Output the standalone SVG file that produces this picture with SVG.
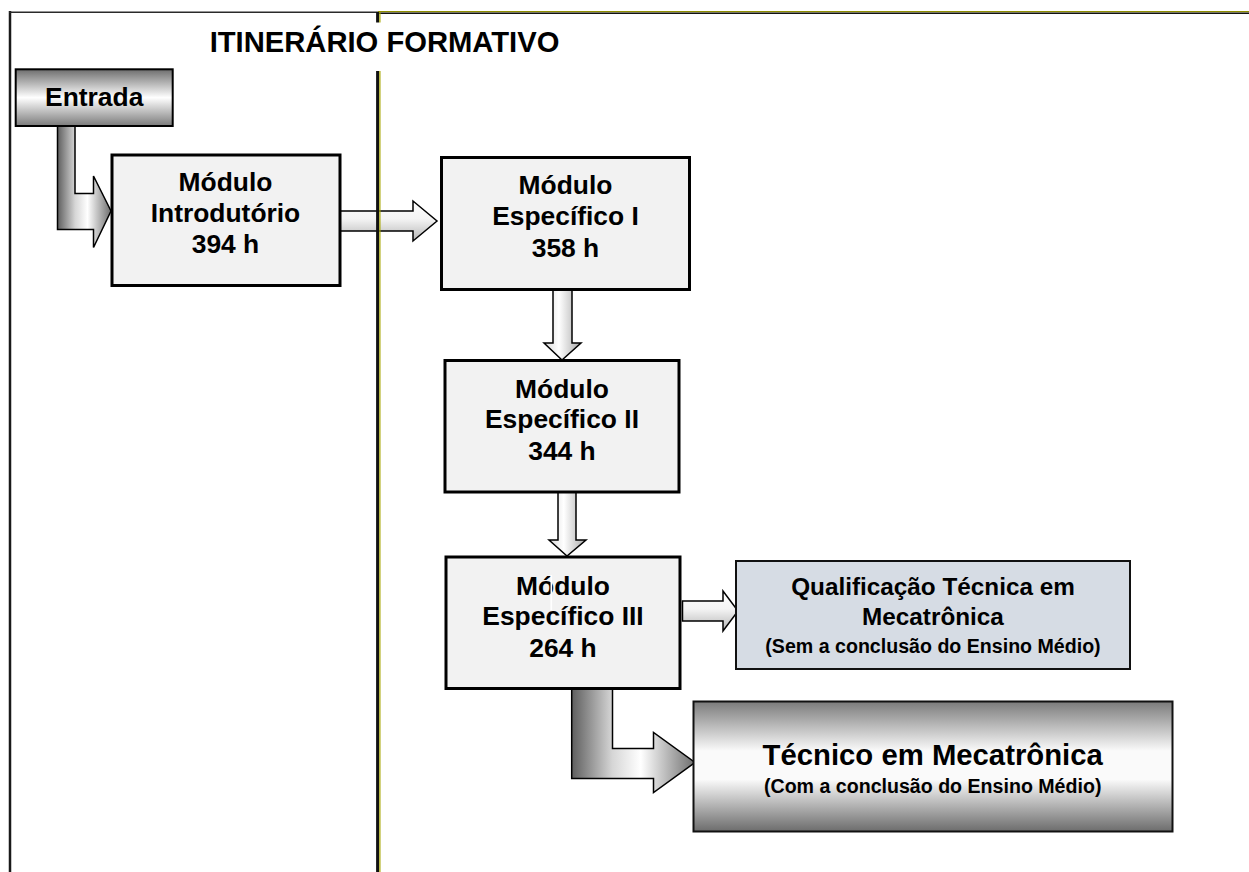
<svg xmlns="http://www.w3.org/2000/svg" width="1249" height="872" viewBox="0 0 1249 872">
<defs>
<linearGradient id="gL" x1="0" y1="0" x2="1" y2="0">
<stop offset="0" stop-color="#5e5e5e"/>
<stop offset="0.33" stop-color="#d6d6d6"/>
<stop offset="0.56" stop-color="#ffffff"/>
<stop offset="1" stop-color="#6e6e6e"/>
</linearGradient>
<linearGradient id="gH" x1="0" y1="0" x2="0" y2="1">
<stop offset="0" stop-color="#ffffff"/>
<stop offset="0.45" stop-color="#f4f4f4"/>
<stop offset="1" stop-color="#b4b4b4"/>
</linearGradient>
<linearGradient id="gV" x1="0" y1="0" x2="1" y2="0">
<stop offset="0" stop-color="#d8d8d8"/>
<stop offset="0.4" stop-color="#ffffff"/>
<stop offset="1" stop-color="#a8a8a8"/>
</linearGradient>
<linearGradient id="gBox" x1="0" y1="0" x2="0" y2="1">
<stop offset="0" stop-color="#7b7b7b"/>
<stop offset="0.38" stop-color="#fafafa"/>
<stop offset="0.6" stop-color="#fafafa"/>
<stop offset="1" stop-color="#6c6c6c"/>
</linearGradient>
<linearGradient id="gEnt" x1="0" y1="0" x2="0" y2="1">
<stop offset="0" stop-color="#6e6e6e"/>
<stop offset="0.5" stop-color="#ffffff"/>
<stop offset="1" stop-color="#7a7a7a"/>
</linearGradient>
</defs>
<style>
text{font-family:"Liberation Sans",Arial,sans-serif;font-weight:bold;fill:#000;text-anchor:middle}
.mod{fill:#f2f2f2;stroke:#000;stroke-width:3}
.t26{font-size:26.4px}
.t24{font-size:24.3px}
.t20{font-size:19.6px}
.arr{stroke:#000;stroke-width:1.5;stroke-linejoin:miter}
</style>
<rect width="1249" height="872" fill="#fff"/>

<g id="connectors">
<path class="arr" fill="url(#gL)" d="M57.5,123 H75 V193.5 H93.5 V176 L111,211 L93.5,247.5 V229.5 H57.5 Z"/>
<path class="arr" fill="url(#gH)" d="M340,211 H413 V201 L437,221 L413,241 V231 H340 Z"/>
<path class="arr" fill="url(#gV)" d="M553,290 H572 V343 H581 L562,360 L544,343 H553 Z"/>
<path class="arr" fill="url(#gV)" d="M558,492 H576 V540 H586 L567,556 L549,540 H558 Z"/>
<path class="arr" fill="url(#gH)" d="M682.5,601 H723 V591 L738,611 L723,631 V621 H682.5 Z"/>
<path class="arr" fill="url(#gL)" d="M571.7,689 H612.5 V748.5 H653.5 V732.5 L695,762.5 L653.5,792.5 V778.5 H571.7 Z"/>
</g>

<g id="frame">
<line x1="10" y1="11" x2="10" y2="872" stroke="#1a1a1a" stroke-width="2.5"/>
<line x1="9" y1="12.2" x2="378" y2="12.2" stroke="#2a2a2a" stroke-width="1.6"/>
<line x1="378" y1="11.6" x2="1249" y2="11.6" stroke="#8f8f00" stroke-width="1.3"/>
<line x1="378" y1="13.2" x2="1249" y2="13.2" stroke="#111" stroke-width="1.5"/>
<line x1="377.6" y1="12" x2="377.6" y2="22.5" stroke="#111" stroke-width="3"/>
<line x1="379.9" y1="12" x2="379.9" y2="22.5" stroke="#a6a600" stroke-width="1.2"/>
<line x1="377.6" y1="71" x2="377.6" y2="872" stroke="#111" stroke-width="3"/>
<line x1="379.9" y1="71" x2="379.9" y2="872" stroke="#a6a600" stroke-width="1.2"/>
<text x="384.5" y="52" style="font-size:29.2px">ITINERÁRIO FORMATIVO</text>
</g>

<g id="entrada">
<rect x="15.7" y="69.3" width="157" height="56.7" fill="url(#gEnt)" stroke="#000" stroke-width="2"/>
<text class="t26" x="94.2" y="106">Entrada</text>
</g>

<g id="modulo-introdutorio">
<rect class="mod" x="112" y="155" width="228" height="130.5"/>
<text class="t26" x="225.5" y="191">Módulo</text>
<text class="t26" x="225.5" y="222">Introdutório</text>
<text class="t26" x="225.5" y="253">394 h</text>
</g>

<g id="modulo-especifico-1">
<rect class="mod" x="441.5" y="157.5" width="248" height="132"/>
<text class="t26" x="565.5" y="194">Módulo</text>
<text class="t26" x="565.5" y="225">Específico I</text>
<text class="t26" x="565.5" y="257">358 h</text>
</g>

<g id="modulo-especifico-2">
<rect class="mod" x="445" y="360.5" width="234" height="131.5"/>
<text class="t26" x="562" y="398">Módulo</text>
<text class="t26" x="562" y="428">Específico II</text>
<text class="t26" x="562" y="460">344 h</text>
</g>

<g id="modulo-especifico-3">
<rect class="mod" x="446" y="557" width="234" height="131.5"/>
<text class="t26" x="563" y="595">Módulo</text>
<text class="t26" x="563" y="625">Específico III</text>
<text class="t26" x="563" y="657">264 h</text>
<rect x="550.5" y="575" width="1.6" height="35" fill="#fff"/>
</g>

<g id="qualificacao">
<rect x="736" y="561" width="394" height="108" fill="#d6dce4" stroke="#111" stroke-width="2"/>
<text class="t24" x="933" y="595">Qualificação Técnica em</text>
<text class="t24" x="933" y="625">Mecatrônica</text>
<text class="t20" x="933" y="653">(Sem a conclusão do Ensino Médio)</text>
</g>

<g id="tecnico">
<rect x="693.5" y="701.5" width="479" height="130" fill="url(#gBox)" stroke="#111" stroke-width="2"/>
<text x="932.7" y="765" style="font-size:29.3px">Técnico em Mecatrônica</text>
<text class="t20" x="932.7" y="793">(Com a conclusão do Ensino Médio)</text>
</g>
</svg>
